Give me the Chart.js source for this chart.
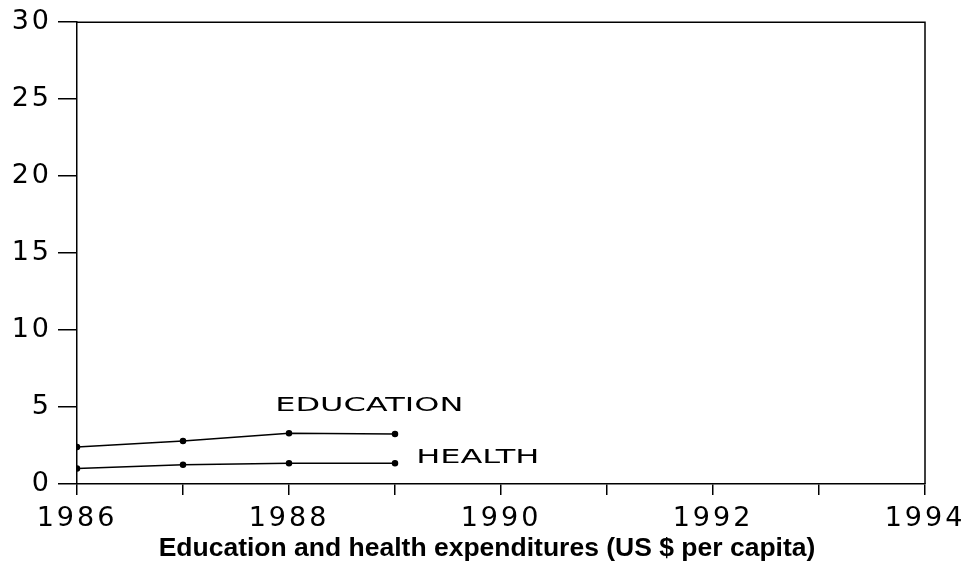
<!DOCTYPE html>
<html>
<head>
<meta charset="utf-8">
<script src="https://cdn.jsdelivr.net/npm/chart.js@4"></script>
<style>
  html, body { margin: 0; padding: 0; background: #fff; }
  #wrap { width: 970px; height: 568px; }
</style>
</head>
<body>
<div id="wrap"><canvas id="expChart"></canvas></div>
<script>
// data
const years = [1986, 1987, 1988, 1989];
const education = [2.4, 2.8, 3.3, 3.25];
const health = [1.0, 1.25, 1.35, 1.35];

// line labels placed in data units
const labelNames = ['EDUCATION', 'HEALTH'];
const labelYears = [1987.87, 1989.2];
const labelValues = [5.1, 1.7];

const titleText = 'Education and health expenditures (US $ per capita)';

const toPoints = (vals) => vals.map((v, i) => ({ x: years[i], y: v }));

// wide tick lettering, frame, line labels and the caption under the chart
const framePlugin = {
  id: 'frame',
  beforeDraw(chart) {
    chart.ctx.letterSpacing = '3px';
  },
  beforeDatasetsDraw(chart) {
    chart.ctx.letterSpacing = '0px';
  },
  afterDatasetsDraw(chart) {
    const { ctx, chartArea, scales } = chart;
    ctx.save();
    ctx.strokeStyle = '#000';
    ctx.lineWidth = 1.5;
    ctx.beginPath();
    ctx.moveTo(chartArea.left, chartArea.top);
    ctx.lineTo(chartArea.right, chartArea.top);
    ctx.lineTo(chartArea.right, chartArea.bottom);
    ctx.stroke();

    ctx.fillStyle = '#000';
    ctx.font = '20px "DejaVu Sans"';
    ctx.textAlign = 'left';
    ctx.textBaseline = 'middle';
    labelNames.forEach((name, i) => {
      ctx.save();
      ctx.translate(scales.x.getPixelForValue(labelYears[i]), scales.y.getPixelForValue(labelValues[i]));
      ctx.scale(1.6, 1);  // the original lettering is very wide
      ctx.fillText(name, 0, 0);
      ctx.restore();
    });

    ctx.font = 'bold 26.5px "Liberation Sans", Arial, sans-serif';
    ctx.textAlign = 'center';
    ctx.fillText(titleText, chart.width / 2 + 2, 549);
    ctx.restore();
  }
};

const tickFont = { family: '"DejaVu Sans"', size: 27 };

new Chart(document.getElementById('expChart'), {
  type: 'line',
  data: {
    datasets: [
      {
        label: 'Education',
        data: toPoints(education),
        borderColor: '#000',
        backgroundColor: '#000',
        borderWidth: 1.5,
        pointRadius: 2.5,
        tension: 0
      },
      {
        label: 'Health',
        data: toPoints(health),
        borderColor: '#000',
        backgroundColor: '#000',
        borderWidth: 1.5,
        pointRadius: 2.5,
        tension: 0
      }
    ]
  },
  options: {
    responsive: true,
    maintainAspectRatio: false,
    animation: false,
    layout: { padding: { top: 22, right: 45, left: 0, bottom: 34 } },
    plugins: {
      legend: { display: false },
      tooltip: { enabled: false }
    },
    scales: {
      x: {
        type: 'linear',
        min: 1986,
        max: 1994,
        afterFit: (s) => { s.height = 50; },
        border: { display: true, color: '#000', width: 1.5 },
        grid: { drawOnChartArea: false, drawTicks: true, tickLength: 11, color: '#000', lineWidth: 1.5 },
        ticks: {
          stepSize: 1,
          autoSkip: false,
          maxRotation: 0,
          padding: 8,
          color: '#000',
          font: tickFont,
          callback: (v) => (v % 2 === 0 ? String(v) : '')
        }
      },
      y: {
        min: 0,
        max: 30,
        afterFit: (s) => { s.width = 77; },
        border: { display: true, color: '#000', width: 1.5 },
        grid: { drawOnChartArea: false, drawTicks: true, tickLength: 19, color: '#000', lineWidth: 1.5 },
        ticks: {
          stepSize: 5,
          padding: 6,
          color: '#000',
          font: tickFont
        }
      }
    }
  },
  plugins: [framePlugin]
});
</script>
</body>
</html>
